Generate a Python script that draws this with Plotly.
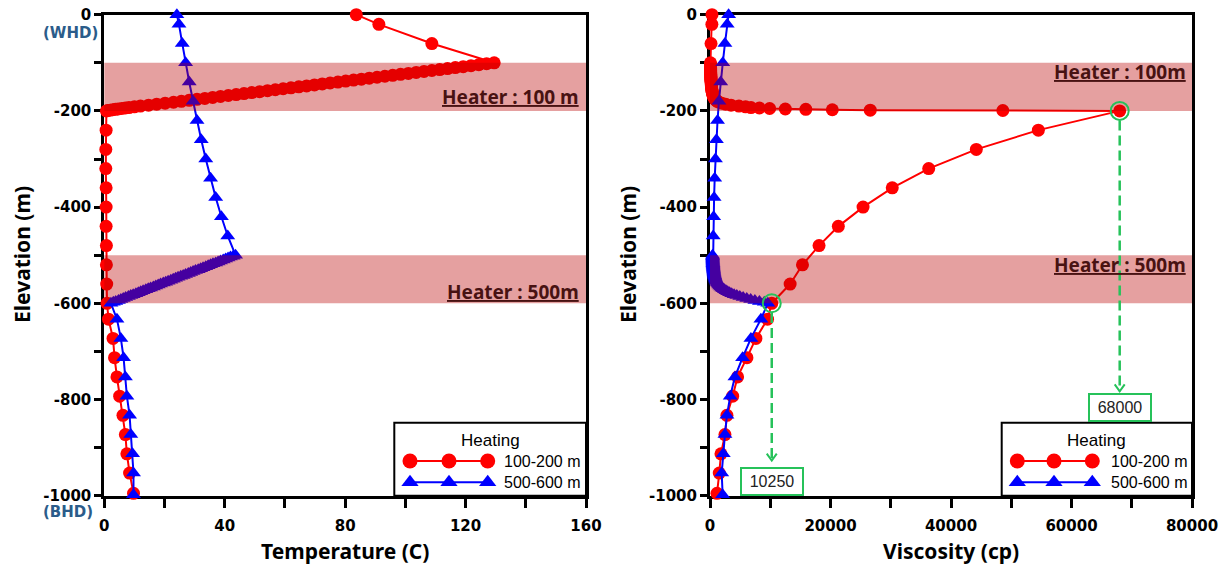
import plotly.graph_objects as go

# ---------------------------------------------------------------------------
# Profiles along the well (elevation in m, temperature in C, viscosity in cp)
# ---------------------------------------------------------------------------

# Heating interval 100-200 m
RED_ELEV = [
    0, -20, -60,
    -100, -102, -104, -106, -108, -110, -112, -114, -116, -118,
    -120, -122, -124, -126, -128, -130, -132, -134, -136, -138,
    -140, -142, -144, -146, -148, -150, -152, -154, -156, -158,
    -160, -162, -164, -166, -168, -170, -172, -174, -176, -178,
    -180, -182, -184, -186, -188, -190,
    -191.5, -193, -194, -195, -196, -196.8, -197.6, -198.4, -199.2, -200,
    -240, -280, -320, -360, -400, -440, -480, -520, -560, -600,
    -633, -673, -713, -753, -793, -833, -873, -913, -953, -995,
]
RED_TEMP = [
    83.7, 91.2, 108.8,
    129.5, 127.0, 124.4, 121.8, 119.2, 116.6, 114.0, 111.4, 108.8, 106.2,
    103.6, 101.0, 98.4, 95.8, 93.2, 90.6, 88.0, 85.4, 82.8, 80.2,
    77.6, 75.0, 72.4, 69.8, 67.2, 64.6, 62.0, 59.4, 56.8, 54.2,
    51.6, 49.0, 46.4, 43.8, 41.2, 38.6, 36.0, 33.4, 30.8, 28.2,
    25.6, 23.0, 20.2, 17.4, 14.7, 12.0,
    10.0, 8.2, 7.0, 5.8, 4.6, 3.7, 2.8, 1.9, 1.1, 0.7,
    0.6, 0.5, 0.5, 0.6, 0.6, 0.6, 0.7, 0.7, 0.8, 0.9,
    1.4, 2.9, 3.4, 4.2, 5.1, 6.2, 7.0, 7.5, 8.4, 9.7,
]
RED_VISC = [
    330, 310, 170,
    80, 82, 84, 87, 90, 93, 96, 100, 104, 108,
    112, 117, 122, 128, 134, 140, 147, 155, 163, 172,
    182, 193, 205, 218, 232, 248, 265, 285, 307, 332,
    360, 392, 428, 470, 520, 580, 650, 740, 850, 1000,
    1200, 1500, 1950, 2600, 3500, 4800,
    5900, 6800, 8200, 9900, 12500, 15900, 20300, 26600, 48600, 68000,
    54500, 44200, 36300, 30250, 25400, 21300, 18100, 15350, 13300, 10250,
    9550, 7620, 6130, 4580, 3760, 2810, 2480, 1820, 1540, 1160,
]

# Heating interval 500-600 m
BLUE_ELEV = [
    0, -20, -60, -100, -140, -180, -220, -260, -300, -340, -380, -420, -460,
    -500, -502, -504, -506, -508, -510, -512, -514, -516, -518,
    -520, -522, -524, -526, -528, -530, -532, -534, -536, -538,
    -540, -542, -544, -546, -548, -550, -552, -554, -556, -558,
    -560, -562, -564, -566, -568, -570, -572, -574, -576, -578,
    -580, -582, -584, -586, -588, -590, -592, -594, -596, -598,
    -600,
    -633, -673, -713, -753, -793, -833, -873, -913, -953, -998,
]
BLUE_TEMP = [
    24.1, 24.8, 25.9, 27.0, 28.2, 29.5, 30.8, 32.2, 33.7, 35.3, 37.0, 38.9, 41.0,
    43.6, 42.8, 41.9, 41.1, 40.3, 39.5, 38.6, 37.8, 37.0, 36.1,
    35.3, 34.5, 33.7, 32.8, 32.0, 31.2, 30.3, 29.5, 28.7, 27.9,
    27.0, 26.2, 25.4, 24.5, 23.7, 22.9, 22.1, 21.2, 20.4, 19.6,
    18.7, 17.9, 17.1, 16.3, 15.4, 14.6, 13.8, 12.9, 12.1, 11.3,
    10.5, 9.6, 8.8, 8.0, 7.1, 6.3, 5.5, 4.7, 3.8, 3.0,
    2.2,
    4.2, 5.5, 6.4, 7.0, 7.5, 8.4, 8.8, 9.4, 9.7, 9.7,
]
BLUE_VISC = [
    3090, 2850, 2480, 2120, 1780, 1480, 1250, 1060, 900, 780, 680, 600, 530,
    420, 425, 430, 435, 440, 450, 460, 470, 480, 490,
    505, 520, 535, 550, 570, 590, 610, 635, 660, 690,
    720, 760, 800, 850, 900, 960, 1030, 1100, 1180, 1270,
    1380, 1500, 1640, 1800, 1980, 2180, 2400, 2650, 2930, 3250,
    3600, 4000, 4450, 4950, 5500, 6100, 6750, 7450, 8200, 9000,
    9600,
    8450, 6790, 5410, 4140, 3360, 2810, 2480, 2200, 1940, 2100,
]

SERIES_NAMES = ["100-200 m", "500-600 m"]
HEATER_ZONES = [(-200, -100), (-600, -500)]
HEATER_LABELS_TEMP = ["Heater : 100 m", "Heater : 500m"]
HEATER_LABELS_VISC = ["Heater : 100m", "Heater : 500m"]
CALLOUT_VALUES = [68000, 10250]
CALLOUT_ELEV = [-200, -600]

# Axis ticks
ELEV_TICKS = [0, -100, -200, -300, -400, -500, -600, -700, -800, -900, -1000]
ELEV_TICK_TEXT = ["0", "", "-200", "", "-400", "", "-600", "", "-800", "", "-1000"]
TEMP_TICKS = [0, 20, 40, 60, 80, 100, 120, 140, 160]
TEMP_TICK_TEXT = ["0", "", "40", "", "80", "", "120", "", "160"]
VISC_TICKS = [0, 10000, 20000, 30000, 40000, 50000, 60000, 70000, 80000]
VISC_TICK_TEXT = ["0", "", "20000", "", "40000", "", "60000", "", "80000"]

# ---------------------------------------------------------------------------
W, H = 1223, 566
RED, BLUE = "#FF0000", "#0000FF"
GREEN = "rgb(38,194,90)"
BAND = "rgba(185,0,0,0.373)"
LABEL_DARK = "rgb(72,18,18)"


def fx(p):
    return p / W


def fy(p):
    return 1 - p / H


Y_DOM = [fy(495.7), fy(14.7)]
X1_DOM = [fx(104.3), fx(586.0)]
X2_DOM = [fx(710.0), fx(1192.0)]

fig = go.Figure()

for xs, ax in ((RED_TEMP, "x"), (RED_VISC, "x2")):
    fig.add_trace(go.Scatter(
        x=xs, y=RED_ELEV, mode="lines+markers", name=SERIES_NAMES[0],
        xaxis=ax, yaxis="y" if ax == "x" else "y2",
        line=dict(color=RED, width=2),
        marker=dict(symbol="circle", size=13, color=RED, line=dict(width=0)),
        cliponaxis=False, showlegend=False))
for xs, ax in ((BLUE_TEMP, "x"), (BLUE_VISC, "x2")):
    fig.add_trace(go.Scatter(
        x=xs, y=BLUE_ELEV, mode="lines+markers", name=SERIES_NAMES[1],
        xaxis=ax, yaxis="y" if ax == "x" else "y2",
        line=dict(color=BLUE, width=2),
        marker=dict(symbol="triangle-up", size=13, color=BLUE, line=dict(width=0)),
        cliponaxis=False, showlegend=False))

# Legend keys (three markers on a line) drawn on a pixel-space overlay axis
LEG_KEYS = [
    # (x positions, y position, colour, symbol, size)
    ([410, 449, 487.7], 461, RED, "circle", 15),
    ([410, 449, 487.7], 482.3, BLUE, "triangle-up", 15),
    ([1017.3, 1054, 1092.3], 461, RED, "circle", 15),
    ([1017.3, 1054, 1092.3], 482.3, BLUE, "triangle-up", 15),
]
for xs, yp, col, sym, sz in LEG_KEYS:
    fig.add_trace(go.Scatter(
        x=xs, y=[yp] * len(xs), mode="lines+markers", xaxis="x3", yaxis="y3",
        line=dict(color=col, width=2),
        marker=dict(symbol=sym, size=sz, color=col, line=dict(width=0)),
        cliponaxis=False, showlegend=False, hoverinfo="skip"))

tick_font = dict(family="DejaVu Sans", size=15, color="black", weight="bold")
common = dict(ticks="outside", tickwidth=2.5, tickcolor="black",
              showline=True, linewidth=3, linecolor="black", mirror=True,
              showgrid=False, zeroline=False, tickfont=tick_font,
              layer="below traces", tickmode="array", automargin=False)

fig.update_layout(
    template="none",
    width=W, height=H, margin=dict(l=0, r=0, t=0, b=0, autoexpand=False),
    paper_bgcolor="white", plot_bgcolor="rgba(0,0,0,0)",
    xaxis=dict(domain=X1_DOM, range=[0, 160], anchor="y",
               tickvals=TEMP_TICKS, ticktext=TEMP_TICK_TEXT, ticklen=9,
               ticklabelstandoff=5, **common),
    yaxis=dict(domain=Y_DOM, range=[-1000, 0], anchor="x",
               tickvals=ELEV_TICKS, ticktext=ELEV_TICK_TEXT, ticklen=7,
               **common),
    xaxis2=dict(domain=X2_DOM, range=[0, 80000], anchor="y2",
                tickvals=VISC_TICKS, ticktext=VISC_TICK_TEXT, ticklen=9,
                ticklabelstandoff=5, **common),
    yaxis2=dict(domain=Y_DOM, range=[-1000, 0], anchor="x2",
                tickvals=ELEV_TICKS, ticktext=ELEV_TICK_TEXT, ticklen=7,
                **common),
    xaxis3=dict(domain=[0, 1], range=[0, W], anchor="y3", visible=False,
                fixedrange=True, automargin=False),
    yaxis3=dict(domain=[0, 1], range=[H, 0], anchor="x3", visible=False,
                fixedrange=True, automargin=False),
)

shapes = []
annotations = []

# Heater zones (translucent bands over the profiles)
for xr, yr in (("x domain", "y"), ("x2 domain", "y2")):
    for lo, hi in HEATER_ZONES:
        shapes.append(dict(type="rect", xref=xr, yref=yr, x0=0, x1=1,
                           y0=lo, y1=hi, fillcolor=BAND, line=dict(width=0),
                           layer="above"))

heater_font = dict(family="Noto Sans", size=19, color=LABEL_DARK, weight="bold")
for txt, yv in zip(HEATER_LABELS_TEMP, [-171.7, -576]):
    annotations.append(dict(text="<u>" + txt + "</u>", xref="x", yref="y",
                            x=158.5, y=yv, xanchor="right", yanchor="middle",
                            showarrow=False, font=heater_font))
for txt, yv in zip(HEATER_LABELS_VISC, [-118.5, -520]):
    annotations.append(dict(text="<u>" + txt + "</u>", xref="x2", yref="y2",
                            x=79400, y=yv, xanchor="right", yanchor="middle",
                            showarrow=False, font=heater_font))

# Callouts for the viscosity at the bottom of each heater
box_centres = [-817.5, -969.5]
arrow_tips = [-783, -927]
line_tops = [-220, -620]
for val, el, bc, tip, top in zip(CALLOUT_VALUES, CALLOUT_ELEV, box_centres,
                                 arrow_tips, line_tops):
    shapes.append(dict(type="circle", xref="x2", yref="y2",
                       xsizemode="pixel", ysizemode="pixel",
                       xanchor=val, yanchor=el, x0=-9, x1=9, y0=-9, y1=9,
                       line=dict(color=GREEN, width=2), layer="above"))
    shapes.append(dict(type="line", xref="x2", yref="y2", x0=val, x1=val,
                       y0=top, y1=tip, line=dict(color=GREEN, width=2.5,
                                                 dash="10px,5px"),
                       layer="above"))
    shapes.append(dict(type="path", xref="x2", yref="y2",
                       xsizemode="pixel", ysizemode="pixel",
                       xanchor=val, yanchor=tip, path="M-5,7 L0,0 L5,7",
                       line=dict(color=GREEN, width=2), layer="above"))
    annotations.append(dict(text=str(val), xref="x2", yref="y2", x=val, y=bc,
                            xanchor="center", yanchor="middle", showarrow=False,
                            font=dict(family="Liberation Sans", size=16,
                                      color="#222222"),
                            bgcolor="white", bordercolor=GREEN, borderwidth=2,
                            borderpad=2, width=56, height=21))

# Legend boxes
for x0, x1 in ((394.3, 586.0), (1001.7, 1192.0)):
    shapes.append(dict(type="rect", xref="paper", yref="paper",
                       x0=fx(x0), x1=fx(x1), y0=fy(495.7), y1=fy(422.7),
                       fillcolor="white", line=dict(color="black", width=2),
                       layer="below"))
leg_font = dict(family="Liberation Sans", size=16, color="black")
for cx, tx in ((490, 501.7), (1096.7, 1109)):
    annotations.append(dict(text="Heating", xref="paper", yref="paper",
                            x=fx(cx), y=fy(440.7), xanchor="center",
                            yanchor="middle", showarrow=False,
                            font=dict(family="Liberation Sans", size=17,
                                      color="black")))
    for name, yp in zip(SERIES_NAMES, (461, 482.3)):
        annotations.append(dict(text=name, xref="paper", yref="paper",
                                x=fx(tx), y=fy(yp), xanchor="left",
                                yanchor="middle", showarrow=False,
                                font=leg_font))

# Axis titles
title_font = dict(family="Noto Sans", size=21, color="black", weight="bold")
annotations += [
    dict(text="Temperature (C)", xref="paper", yref="paper", x=fx(345.2),
         y=fy(551), xanchor="center", yanchor="middle", showarrow=False,
         font=title_font),
    dict(text="Viscosity (cp)", xref="paper", yref="paper", x=fx(951),
         y=fy(551), xanchor="center", yanchor="middle", showarrow=False,
         font=title_font),
    dict(text="Elevation (m)", xref="paper", yref="paper", x=fx(22),
         y=fy(255), xanchor="center", yanchor="middle", textangle=-90,
         showarrow=False, font=title_font),
    dict(text="Elevation (m)", xref="paper", yref="paper", x=fx(628),
         y=fy(255), xanchor="center", yanchor="middle", textangle=-90,
         showarrow=False, font=title_font),
]

# Well-head / bottom-hole markers
wb_font = dict(family="DejaVu Sans", size=15, color="#2B5C8A", weight="bold")
annotations += [
    dict(text="(WHD)", xref="paper", yref="paper", x=fx(70.8), y=fy(33.3),
         xanchor="center", yanchor="middle", showarrow=False, font=wb_font),
    dict(text="(BHD)", xref="paper", yref="paper", x=fx(67.5), y=fy(511.7),
         xanchor="center", yanchor="middle", showarrow=False, font=wb_font),
]

fig.update_layout(shapes=shapes, annotations=annotations)
fig.write_html("out.html")
